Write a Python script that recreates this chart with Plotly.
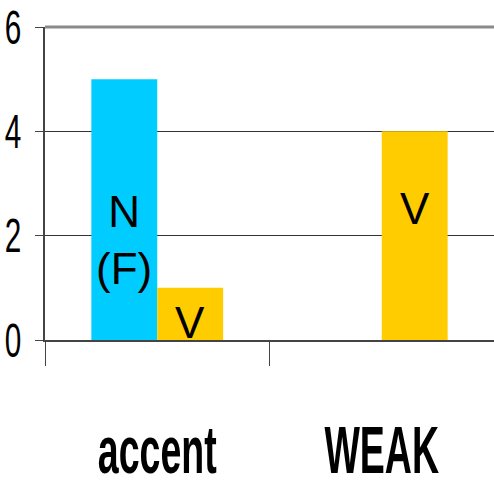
import plotly.graph_objects as go

# Categories and series values
categories = ["accent", "WEAK"]
nf_values = [5, None]       # N (F) series
v_values = [1, 4]           # V series

# Labels printed on the bars: (category, series, text, vertical position)
bar_labels = [
    ("accent", "nf", "N<br>(F)", 1.92),
    ("accent", "v", "V", 0.34),
    ("WEAK", "v", "V", 2.52),
]

CYAN = "#00CCFF"
GOLD = "#FFCC00"
AXIS = "#444444"

fig = go.Figure()
fig.add_trace(go.Bar(x=categories, y=nf_values, marker=dict(color=CYAN, line=dict(width=0)),
                     name="N (F)"))
fig.add_trace(go.Bar(x=categories, y=v_values, marker=dict(color=GOLD, line=dict(width=0)),
                     name="V"))

shift = {"nf": -33, "v": 33}
for cat, series, text, ypos in bar_labels:
    fig.add_annotation(x=cat, y=ypos, xref="x", yref="y", text=text, showarrow=False,
                       xshift=shift[series],
                       font=dict(family="Liberation Sans, Arial, sans-serif", size=44, color="black"))

# Grey frame line along the top of the plotting area
fig.add_shape(type="line", xref="paper", yref="paper", x0=0, x1=1, y0=1, y1=1,
              line=dict(color="#8a8a8a", width=3))

fig.update_layout(
    width=494, height=480,
    margin=dict(l=45, r=0, t=27, b=140, autoexpand=False),
    paper_bgcolor="white", plot_bgcolor="white",
    barmode="group", bargap=0.413, bargroupgap=0,
    showlegend=False,
    xaxis=dict(
        type="category", range=[-0.5, 1.5], automargin=False,
        showline=True, linecolor=AXIS, linewidth=2,
        ticks="outside", ticklen=24, tickcolor=AXIS, tickwidth=1,
        tickson="boundaries", showgrid=False,
        ticklabelstandoff=51,
        tickfont=dict(family="Liberation Sans Narrow, Arial Narrow, sans-serif",
                      size=67, color="black", weight="bold"),
    ),
    yaxis=dict(
        range=[0, 6], tickvals=[0, 2, 4, 6], automargin=False,
        showline=True, linecolor=AXIS, linewidth=2,
        ticks="outside", ticklen=8, tickcolor=AXIS, tickwidth=1,
        showgrid=True, gridcolor="#333333", gridwidth=1,
        zeroline=False,
        ticklabelstandoff=4,
        tickfont=dict(family="Liberation Sans Narrow, Arial Narrow, sans-serif",
                      size=48, color="black"),
    ),
)

# Horizontally condense the axis tick labels
squeeze_js = """
var gd = document.getElementById('{plot_id}');
function squeeze(sel, k) {
  gd.querySelectorAll(sel).forEach(function (t) {
    if (t.getAttribute('data-sq')) return;
    var x = parseFloat(t.getAttribute('x') || 0);
    var tr = t.getAttribute('transform') || '';
    t.setAttribute('transform', tr + ' translate(' + x + ',0) scale(' + k + ',1) translate(' + (-x) + ',0)');
    t.setAttribute('data-sq', '1');
  });
}
squeeze('.xtick text', 0.56);
squeeze('.ytick text', 0.62);
"""

fig.write_html("out.html", post_script=squeeze_js)
